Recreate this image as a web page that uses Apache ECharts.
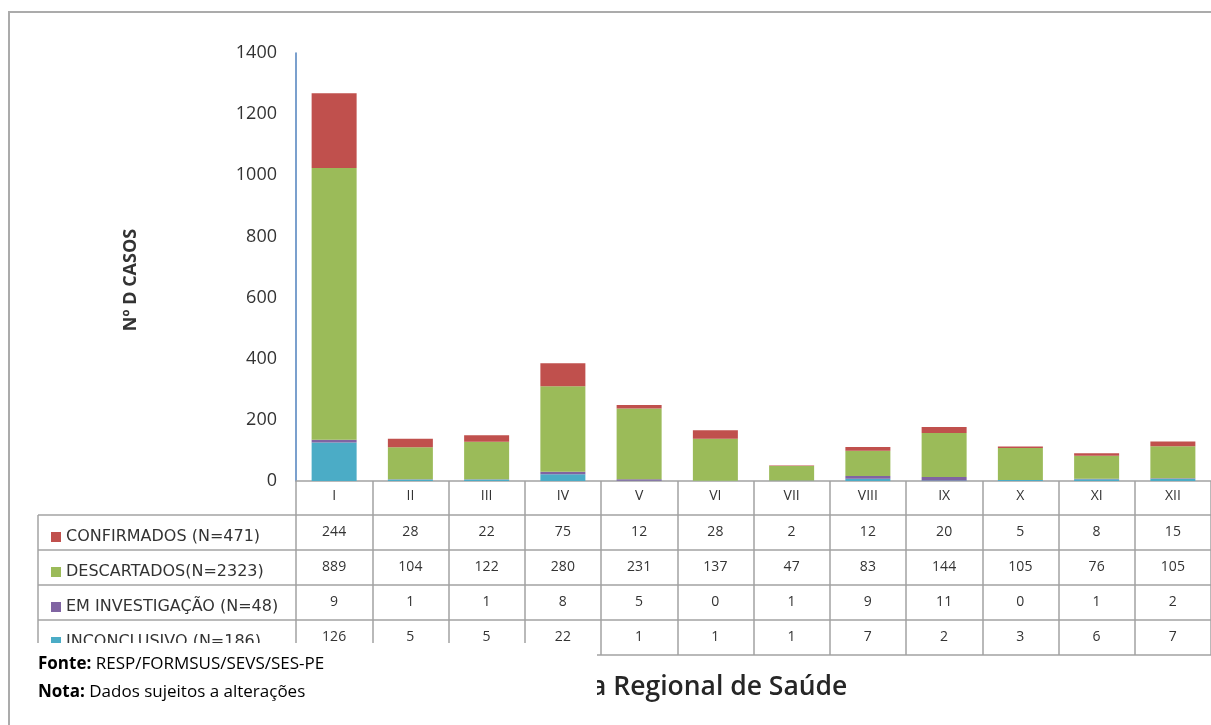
<!DOCTYPE html>
<html>
<head>
<meta charset="utf-8">
<title>Casos por Regional de Saúde</title>
<script src="https://cdn.jsdelivr.net/npm/echarts@6/dist/echarts.min.js"></script>
<style>
    html, body { margin: 0; padding: 0; background: #fff; }
    #chart { width: 1211px; height: 725px; }
</style>
</head>
<body>
<div id="chart"></div>
<script>
var regionais = ["I", "II", "III", "IV", "V", "VI", "VII", "VIII", "IX", "X", "XI", "XII"];
var confirmados = [244, 28, 22, 75, 12, 28, 2, 12, 20, 5, 8, 15];
var descartados = [889, 104, 122, 280, 231, 137, 47, 83, 144, 105, 76, 105];
var investigacao = [9, 1, 1, 8, 5, 0, 1, 9, 11, 0, 1, 2];
var inconclusivo = [126, 5, 5, 22, 1, 1, 1, 7, 2, 3, 6, 7];
var nomes = ["CONFIRMADOS (N=471)", "DESCARTADOS(N=2323)", "EM INVESTIGAÇÃO (N=48)", "INCONCLUSIVO (N=186)"];
var cores = ["#C0504D", "#9BBB59", "#8064A2", "#4BACC6"];
var linhas = [confirmados, descartados, investigacao, inconclusivo];

var fonte = "Open Sans";
var corTexto = "#333333";
var corGrade = "#A3A3A3";

var myChart = echarts.init(document.getElementById("chart"));

// eixo principal + uma linha da tabela por eixo extra
var xAxes = [{
    type: "category",
    data: regionais,
    position: "bottom",
    axisLine: {lineStyle: {color: corGrade, width: 1.5}},
    axisTick: {show: true, length: 174, interval: 0, lineStyle: {color: corGrade, width: 1.5}},
    axisLabel: {margin: 8, fontSize: 14, color: corTexto, fontFamily: fonte, interval: 0}
}];
var offsets = [34, 69, 104, 139];
linhas.forEach(function(linha, k) {
    xAxes.push({
        type: "category",
        data: regionais,
        position: "bottom",
        offset: offsets[k],
        axisLine: {lineStyle: {color: corGrade, width: 1.5}},
        axisTick: {show: false},
        axisLabel: {
            margin: 10, fontSize: 14, color: corTexto, fontFamily: fonte, interval: 0,
            formatter: function(v, i) { return String(linha[i]); }
        }
    });
});
xAxes.push({
    type: "category",
    data: regionais,
    position: "bottom",
    offset: 174,
    axisLine: {lineStyle: {color: corGrade, width: 1.5}},
    axisTick: {show: false},
    axisLabel: {show: false}
});

// linhas da coluna da legenda
var graficos = [];
[515, 550, 585, 620, 655].forEach(function(y) {
    graficos.push({type: "line", shape: {x1: 38, y1: y, x2: 296, y2: y},
        style: {stroke: corGrade, lineWidth: 1.5}, z: 5});
});
graficos.push({type: "line", shape: {x1: 38, y1: 515, x2: 38, y2: 655},
    style: {stroke: corGrade, lineWidth: 1.5}, z: 5});
// borda externa
graficos.push({type: "rect", shape: {x: 9, y: 12, width: 1400, height: 900},
    style: {fill: null, stroke: "#ABABAB", lineWidth: 2}, z: 5});
// titulo do eixo y
graficos.push({type: "text", x: 131, y: 280, rotation: Math.PI / 2,
    style: {text: "Nº D CASOS", font: "bold 18px 'Open Sans'", fill: corTexto,
        align: "center", verticalAlign: "middle"}, z: 5});
// titulo parcialmente coberto
graficos.push({type: "text", left: 591, top: 674,
    style: {text: "a Regional de Saúde", font: "600 26.5px 'Open Sans'", fill: "#262626"}, z: 50});
// caixa branca com fonte e nota
graficos.push({type: "rect", shape: {x: 11, y: 643, width: 586, height: 90},
    style: {fill: "#fff"}, z: 100});
graficos.push({type: "text", left: 38, top: 650, z: 101,
    style: {
        text: "{b|Fonte:} RESP/FORMSUS/SEVS/SES-PE\n{b|Nota:} Dados sujeitos a alterações",
        font: "17px 'Open Sans'", fill: "#000", lineHeight: 28,
        rich: {b: {fontWeight: "bold", fontSize: 17, fontFamily: fonte}}
    }
});

var option = {
    animation: false,
    textStyle: {fontFamily: fonte},
    grid: {left: 296, top: 53, width: 929, height: 428},
    legend: {
        orient: "vertical",
        left: 46,
        top: 524,
        itemWidth: 10,
        itemHeight: 10,
        itemGap: 19,
        icon: "rect",
        selectedMode: false,
        data: nomes,
        textStyle: {fontSize: 16, lineHeight: 16, color: corTexto, fontFamily: "DejaVu Sans"}
    },
    xAxis: xAxes,
    yAxis: {
        type: "value",
        min: 0,
        max: 1400,
        interval: 200,
        axisLine: {show: true, lineStyle: {color: "#4F81BD", width: 1.5}},
        axisTick: {show: false},
        splitLine: {show: false},
        axisLabel: {
            margin: 19, fontSize: 18, color: corTexto, fontFamily: fonte,
            formatter: function(v) { return String(v); }
        }
    },
    series: [
        {name: nomes[3], type: "bar", stack: "total", data: inconclusivo, barWidth: 45, itemStyle: {color: cores[3]}},
        {name: nomes[2], type: "bar", stack: "total", data: investigacao, barWidth: 45, itemStyle: {color: cores[2]}},
        {name: nomes[1], type: "bar", stack: "total", data: descartados, barWidth: 45, itemStyle: {color: cores[1]}},
        {name: nomes[0], type: "bar", stack: "total", data: confirmados, barWidth: 45, itemStyle: {color: cores[0]}}
    ],
    graphic: graficos
};
myChart.setOption(option);
</script>
</body>
</html>
